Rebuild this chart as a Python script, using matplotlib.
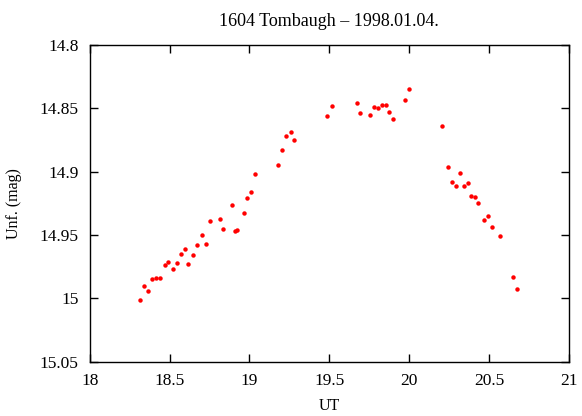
import matplotlib
matplotlib.use("Agg")
import matplotlib.pyplot as plt
from matplotlib.ticker import FormatStrFormatter

# UT hours and unfiltered magnitudes
ut = [18.317, 18.342, 18.365, 18.390, 18.415, 18.440, 18.471, 18.488, 18.519, 18.544,
      18.569, 18.594, 18.613, 18.645, 18.673, 18.705, 18.730, 18.753, 18.814, 18.834,
      18.891, 18.907, 18.924, 18.964, 18.986, 19.011, 19.036, 19.178, 19.203, 19.228,
      19.259, 19.278, 19.487, 19.516, 19.671, 19.693, 19.754, 19.779, 19.804, 19.829,
      19.854, 19.873, 19.898, 19.971, 19.996, 20.205, 20.242, 20.267, 20.292, 20.317,
      20.342, 20.367, 20.384, 20.409, 20.428, 20.469, 20.494, 20.519, 20.568, 20.649,
      20.672]
mag = [15.001, 14.990, 14.994, 14.985, 14.984, 14.984, 14.974, 14.971, 14.977, 14.972,
       14.965, 14.961, 14.973, 14.966, 14.958, 14.950, 14.957, 14.939, 14.937, 14.945,
       14.926, 14.947, 14.946, 14.933, 14.921, 14.916, 14.902, 14.895, 14.883, 14.872,
       14.869, 14.875, 14.856, 14.848, 14.846, 14.854, 14.855, 14.849, 14.850, 14.847,
       14.847, 14.853, 14.858, 14.843, 14.835, 14.864, 14.896, 14.908, 14.911, 14.901,
       14.911, 14.909, 14.919, 14.920, 14.925, 14.938, 14.935, 14.944, 14.951, 14.983,
       14.993]

xticks = [18, 18.5, 19, 19.5, 20, 20.5, 21]
yticks = [14.8, 14.85, 14.9, 14.95, 15, 15.05]

plt.rcParams['font.family'] = 'Liberation Serif'
plt.rcParams['font.size'] = 11.5

fig = plt.figure(figsize=(5.82, 4.16), dpi=100)
ax = fig.add_axes([0.1541, 0.1308, 0.8236, 0.7608])

ax.plot(ut, mag, linestyle='none', marker='o', markersize=3.2,
        markerfacecolor='red', markeredgecolor='none')

ax.set_xlim(18, 21)
ax.set_ylim(15.05, 14.8)
ax.set_xticks(xticks)
ax.set_yticks(yticks)
ax.xaxis.set_major_formatter(FormatStrFormatter('%g'))
ax.yaxis.set_major_formatter(FormatStrFormatter('%g'))
ax.tick_params(direction='in', length=6, width=1, top=True, right=True, labelsize=12.5)
ax.tick_params(axis='x', pad=8)
ax.tick_params(axis='y', pad=8)
for s in ax.spines.values():
    s.set_linewidth(1)

ax.set_title('1604 Tombaugh – 1998.01.04.', pad=14, fontsize=13)
ax.set_xlabel('UT', labelpad=7)
ax.set_ylabel('Unf. (mag)', labelpad=13)

fig.savefig('out.png', dpi=100)
